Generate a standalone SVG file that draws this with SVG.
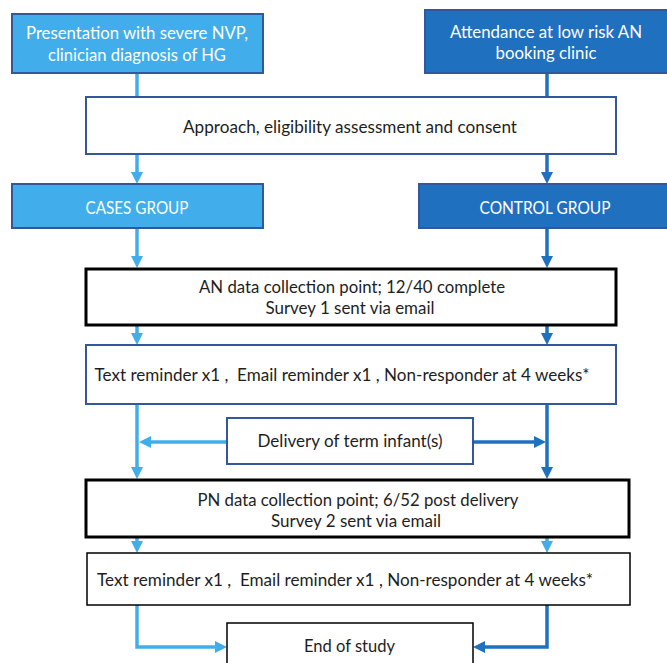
<svg xmlns="http://www.w3.org/2000/svg" width="667" height="663" viewBox="0 0 667 663">
<style>
text{font-family:Lato,"Open Sans","Liberation Sans",sans-serif;font-size:16.5px;fill:#1e1e1e;text-anchor:middle;dominant-baseline:central}
.w{fill:#ffffff}
.light{fill:#41aeeb;stroke:#34569a;stroke-width:2}
.dark{fill:#2070c0;stroke:#34569a;stroke-width:2}
.blue{fill:#ffffff;stroke:#34569a;stroke-width:2}
.thick{fill:#ffffff;stroke:#000000;stroke-width:3}
.thin{fill:#ffffff;stroke:#000000;stroke-width:1.5}
.cl{fill:none;stroke:#41aeeb;stroke-width:3.5}
.cd{fill:none;stroke:#2070c0;stroke-width:3.5}
</style>
<defs>
<marker id="al" viewBox="0 0 12 12" refX="6" refY="6" markerWidth="12" markerHeight="13" markerUnits="userSpaceOnUse" orient="auto"><path d="M0,0 L12,6 L0,12 z" fill="#41aeeb"/></marker>
<marker id="ad" viewBox="0 0 12 12" refX="6" refY="6" markerWidth="12" markerHeight="13" markerUnits="userSpaceOnUse" orient="auto"><path d="M0,0 L12,6 L0,12 z" fill="#2070c0"/></marker>
</defs>
<g id="connectors">
<line class="cl" x1="137" y1="73" x2="137" y2="97"/>
<line class="cd" x1="547" y1="73" x2="547" y2="97"/>
<line class="cl" x1="137" y1="154" x2="137" y2="178" marker-end="url(#al)"/>
<line class="cd" x1="547" y1="154" x2="547" y2="178" marker-end="url(#ad)"/>
<line class="cl" x1="137" y1="228" x2="137" y2="262" marker-end="url(#al)"/>
<line class="cd" x1="547" y1="228" x2="547" y2="262" marker-end="url(#ad)"/>
<line class="cl" x1="137" y1="325" x2="137" y2="339" marker-end="url(#al)"/>
<line class="cd" x1="547" y1="325" x2="547" y2="339" marker-end="url(#ad)"/>
<line class="cl" x1="137" y1="404" x2="137" y2="473" marker-end="url(#al)"/>
<line class="cd" x1="547" y1="404" x2="547" y2="473" marker-end="url(#ad)"/>
<line class="cl" x1="227" y1="442" x2="145" y2="442" marker-end="url(#al)"/>
<line class="cd" x1="473" y1="442" x2="540" y2="442" marker-end="url(#ad)"/>
<line class="cl" x1="137" y1="538" x2="137" y2="547" marker-end="url(#al)"/>
<line class="cl" x1="547" y1="538" x2="547" y2="547" marker-end="url(#al)"/>
<path class="cl" d="M137,605 V647 H221" marker-end="url(#al)"/>
<path class="cd" d="M547,605 V647 H479" marker-end="url(#ad)"/>
</g>
<g id="cases-start">
<rect class="light" x="12" y="14" width="251" height="59"/>
<text class="w" x="137" y="33" textLength="222" lengthAdjust="spacingAndGlyphs">Presentation with severe NVP,</text>
<text class="w" x="137" y="55" textLength="178" lengthAdjust="spacingAndGlyphs">clinician diagnosis of HG</text>
</g>
<g id="control-start">
<rect class="dark" x="425" y="10" width="243" height="63"/>
<text class="w" x="546" y="32" textLength="192" lengthAdjust="spacingAndGlyphs">Attendance at low risk AN</text>
<text class="w" x="546" y="53" textLength="101" lengthAdjust="spacingAndGlyphs">booking clinic</text>
</g>
<g id="approach">
<rect class="blue" x="86" y="97" width="530" height="57"/>
<text x="350" y="127" textLength="334" lengthAdjust="spacingAndGlyphs">Approach, eligibility assessment and consent</text>
</g>
<g id="cases-group">
<rect class="light" x="12" y="184" width="251" height="44"/>
<text class="w" x="137" y="208" textLength="103" lengthAdjust="spacingAndGlyphs">CASES GROUP</text>
</g>
<g id="control-group">
<rect class="dark" x="419" y="184" width="249" height="44"/>
<text class="w" x="545" y="208" textLength="131" lengthAdjust="spacingAndGlyphs">CONTROL GROUP</text>
</g>
<g id="an-collection">
<rect class="thick" x="86" y="269" width="530" height="56"/>
<text x="352" y="287" textLength="306" lengthAdjust="spacingAndGlyphs">AN data collection point; 12/40 complete</text>
<text x="350" y="308" textLength="169" lengthAdjust="spacingAndGlyphs">Survey 1 sent via email</text>
</g>
<g id="reminder-1">
<rect class="blue" x="86" y="345" width="530" height="59"/>
<text x="94.5" y="375" style="text-anchor:start;white-space:pre" textLength="495" lengthAdjust="spacingAndGlyphs">Text reminder x1 ,  Email reminder x1 , Non-responder at 4 weeks*</text>
</g>
<g id="delivery">
<rect class="blue" x="227" y="418" width="246" height="46"/>
<text x="350" y="441" textLength="185" lengthAdjust="spacingAndGlyphs">Delivery of term infant(s)</text>
</g>
<g id="pn-collection">
<rect class="thick" x="86" y="480" width="543" height="57"/>
<text x="358" y="500" textLength="321" lengthAdjust="spacingAndGlyphs">PN data collection point; 6/52 post delivery</text>
<text x="356" y="521" textLength="170" lengthAdjust="spacingAndGlyphs">Survey 2 sent via email</text>
</g>
<g id="reminder-2">
<rect class="thin" x="87" y="553" width="543" height="52"/>
<text x="97" y="580" style="text-anchor:start;white-space:pre" textLength="496" lengthAdjust="spacingAndGlyphs">Text reminder x1 ,  Email reminder x1 , Non-responder at 4 weeks*</text>
</g>
<g id="end">
<rect class="thin" x="227" y="623" width="246" height="50"/>
<text x="349.5" y="646" textLength="91" lengthAdjust="spacingAndGlyphs">End of study</text>
</g>
</svg>
